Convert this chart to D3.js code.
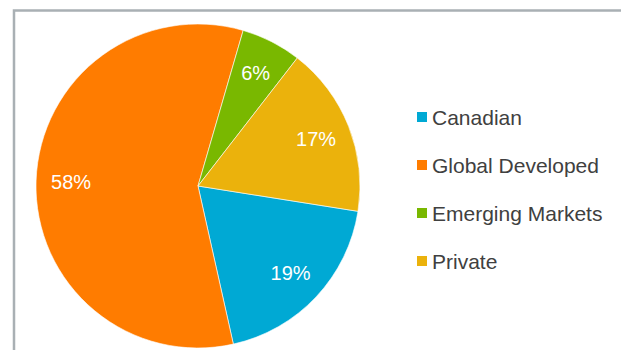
<html>
<head>
<style>
  body { margin: 0; background: #fff; }
  text { font-family: "Liberation Sans", Arial, sans-serif; }
</style>
</head>
<body>
<svg id="chart" width="621" height="350"></svg>
<script src="https://cdn.jsdelivr.net/npm/d3@7"></script>
<script>
  // chart data
  const categories = ["Canadian", "Global Developed", "Emerging Markets", "Private"]
  const shares = [19, 58, 6, 17]
  const colors = ["#00a9d4", "#ff7c00", "#79b800", "#ebb20c"]

  let svg = d3.select("#chart")

  // grey frame (top and left edges visible)
  svg.append("path")
     .attr("d", "M14,350 V10.5 H621")
     .attr("fill", "none")
     .attr("stroke", "#a9b0b4")
     .attr("stroke-width", 2.5)

  let cx = 198, cy = 186, radius = 162
  let start = 99 * Math.PI / 180

  let pie = d3.pie()
              .sort(null)
              .value(d => d)
              .startAngle(start)
              .endAngle(start + 2 * Math.PI)

  let arc = d3.arc().innerRadius(0).outerRadius(radius)
  let labelArc = d3.arc().innerRadius(127).outerRadius(127)

  let g = svg.append("g").attr("transform", `translate(${cx},${cy})`)

  let arcs = pie(shares)

  g.selectAll("path")
   .data(arcs)
   .enter()
   .append("path")
     .attr("d", arc)
     .attr("fill", (d, i) => colors[i])
     .attr("stroke", "#fff")
     .attr("stroke-width", 0.6)

  g.selectAll("text")
   .data(arcs)
   .enter()
   .append("text")
     .attr("transform", d => `translate(${labelArc.centroid(d)})`)
     .attr("text-anchor", "middle")
     .attr("dy", "0.36em")
     .attr("fill", "#fff")
     .attr("font-size", 20)
     .text(d => d.value + "%")

  // legend
  let legend = svg.append("g").attr("transform", "translate(417,112)")
  let rows = legend.selectAll("g")
                   .data(categories)
                   .enter()
                   .append("g")
                   .attr("transform", (d, i) => `translate(0,${i * 48})`)

  rows.append("rect")
      .attr("width", 10)
      .attr("height", 10)
      .attr("fill", (d, i) => colors[i])

  rows.append("text")
      .attr("x", 15)
      .attr("y", 13)
      .attr("fill", "#404040")
      .attr("font-size", 21)
      .text(d => d)
</script>
</body>
</html>
